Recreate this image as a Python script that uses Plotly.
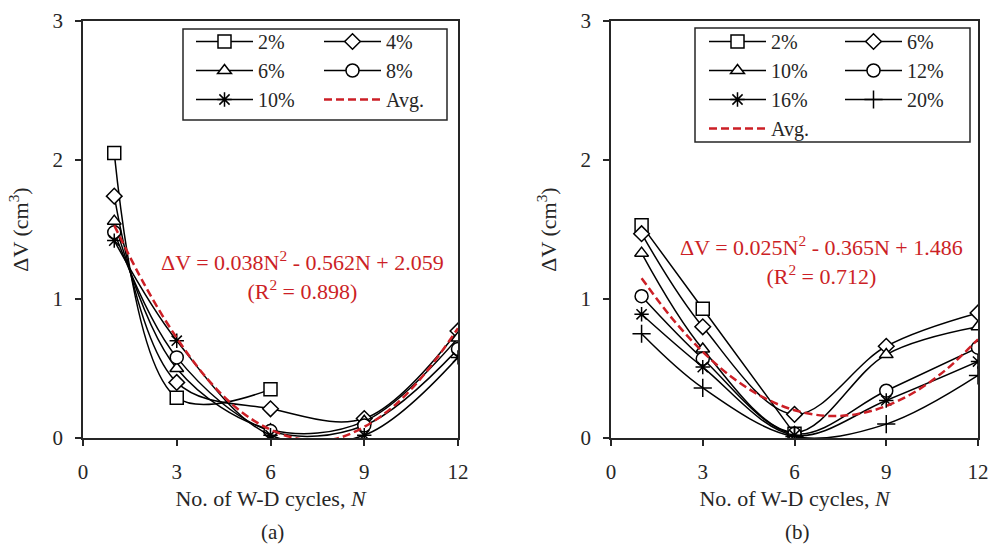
import plotly.graph_objects as go

W, H = 989, 548
FONT = "Liberation Serif, DejaVu Serif, serif"
RED = "#cc1f26"

# ---------------- data ----------------
N_full = [1, 3, 6, 9, 12]
N_short = [1, 3, 6]
N_avg = [1, 2, 3, 4, 5, 6, 7, 8, 9, 10, 11, 12]

# panel (a)
a_labels = ["2%", "4%", "6%", "8%", "10%"]
a_2 = [2.05, 0.29, 0.35]
a_4 = [1.74, 0.40, 0.21, 0.14, 0.77]
a_6 = [1.56, 0.50, 0.06, 0.12, 0.72]
a_8 = [1.48, 0.58, 0.05, 0.09, 0.64]
a_10 = [1.42, 0.70, 0.02, 0.02, 0.58]
a_avg = [1.53, 1.09, 0.72, 0.42, 0.20, 0.06, -0.01, -0.01, 0.08, 0.24, 0.48, 0.79]

# panel (b)
b_labels = ["2%", "6%", "10%", "12%", "16%", "20%"]
b_2 = [1.53, 0.93, 0.03]
b_6 = [1.47, 0.80, 0.17, 0.66, 0.90]
b_10 = [1.33, 0.64, 0.04, 0.60, 0.80]
b_12 = [1.02, 0.57, 0.03, 0.34, 0.65]
b_16 = [0.89, 0.51, 0.02, 0.27, 0.55]
b_20 = [0.75, 0.36, 0.01, 0.10, 0.45]
b_avg = [1.15, 0.86, 0.62, 0.43, 0.29, 0.20, 0.16, 0.17, 0.23, 0.34, 0.50, 0.71]

x_ticks = [0, 3, 6, 9, 12]
y_ticks = [0, 1, 2, 3]

# ---------------- helpers ----------------
def px(xp):
    return xp / W

def py(yp):
    return 1 - yp / H

fig = go.Figure()

def series(x, y, name, symbol, xa, ya, legend, size=12):
    fig.add_trace(go.Scatter(
        x=x, y=y, name=name, mode="lines+markers",
        xaxis=xa, yaxis=ya, legend=legend,
        line=dict(color="black", width=1.5, shape="spline", smoothing=1),
        marker=dict(symbol=symbol, size=size, color="white",
                    line=dict(color="black", width=1.5)),
    ))

def star(x, y, name, symbol, xa, ya, legend, size=12):
    fig.add_trace(go.Scatter(
        x=x, y=y, name=name, mode="lines+markers",
        xaxis=xa, yaxis=ya, legend=legend,
        line=dict(color="black", width=1.5, shape="spline", smoothing=1),
        marker=dict(symbol=symbol, size=size, color="black",
                    line=dict(color="black", width=1.5)),
    ))

def avg(x, y, xa, ya, legend):
    fig.add_trace(go.Scatter(
        x=x, y=y, name="Avg.", mode="lines",
        xaxis=xa, yaxis=ya, legend=legend,
        line=dict(color=RED, width=2.5, dash="8px,4px", shape="spline"),
    ))

# panel (a): legend = col1, legend2 = col2
series(N_short, a_2, a_labels[0], "square", "x", "y", "legend", 13)
series(N_full, a_4, a_labels[1], "diamond", "x", "y", "legend2", 12)
series(N_full, a_6, a_labels[2], "triangle-up", "x", "y", "legend", 12)
series(N_full, a_8, a_labels[3], "circle", "x", "y", "legend2", 13)
star(N_full, a_10, a_labels[4], "asterisk-open", "x", "y", "legend", 12)
avg(N_avg, a_avg, "x", "y", "legend2")

# panel (b): legend3 = col1, legend4 = col2
series(N_short, b_2, b_labels[0], "square", "x2", "y2", "legend3", 13)
series(N_full, b_6, b_labels[1], "diamond", "x2", "y2", "legend4", 12)
series(N_full, b_10, b_labels[2], "triangle-up", "x2", "y2", "legend3", 12)
series(N_full, b_12, b_labels[3], "circle", "x2", "y2", "legend4", 13)
star(N_full, b_16, b_labels[4], "asterisk-open", "x2", "y2", "legend3", 12)
star(N_full, b_20, b_labels[5], "cross-thin-open", "x2", "y2", "legend4", 13)
avg(N_avg, b_avg, "x2", "y2", "legend3")

axis_common = dict(
    showline=True, linecolor="#262626", linewidth=1.5, mirror=True,
    ticks="outside", ticklen=6, tickwidth=1.5, tickcolor="#262626",
    showgrid=False, zeroline=False, automargin=False,
    tickfont=dict(family=FONT, size=21, color="#262626"),
    ticklabelstandoff=8,
)

ydom = [py(438), py(21)]
xt = dict(text="No. of W-D cycles, <i>N</i>", standoff=8, font=dict(family=FONT, size=22))
yt = dict(text="ΔV (cm<sup>3</sup>)", standoff=18, font=dict(family=FONT, size=22))
fig.update_layout(
    width=W, height=H,
    margin=dict(l=0, r=0, t=0, b=0, autoexpand=False),
    paper_bgcolor="white", plot_bgcolor="white",
    font=dict(family=FONT, size=21, color="#262626"),
    xaxis=dict(domain=[px(83), px(458)], range=[0, 12], tickvals=x_ticks,
               anchor="y", title=xt, **axis_common),
    yaxis=dict(domain=ydom, range=[0, 3], tickvals=y_ticks, anchor="x",
               title=yt, **axis_common),
    xaxis2=dict(domain=[px(611), px(978)], range=[0, 12], tickvals=x_ticks,
                anchor="y2", title=xt, **axis_common),
    yaxis2=dict(domain=ydom, range=[0, 3], tickvals=y_ticks, anchor="x2",
                title=yt, **axis_common),
)

leg_common = dict(
    orientation="v", bgcolor="rgba(0,0,0,0)", borderwidth=0,
    font=dict(family=FONT, size=20, color="#262626"),
    itemwidth=57, tracegroupgap=0, xanchor="left", yanchor="top",
)
fig.update_layout(
    legend=dict(x=px(191), y=py(22), **leg_common),
    legend2=dict(x=px(319), y=py(22), **leg_common),
    legend3=dict(x=px(704), y=py(22), **leg_common),
    legend4=dict(x=px(840), y=py(22), **leg_common),
)

# legend frames
for (x0, y0, x1, y1) in [(183, 29, 447, 120), (695, 28, 970, 142)]:
    fig.add_shape(type="rect", xref="paper", yref="paper",
                  x0=px(x0), x1=px(x1), y0=py(y1), y1=py(y0),
                  line=dict(color="#262626", width=1.5), fillcolor="rgba(0,0,0,0)")

# equations
ann = dict(xref="paper", yref="paper", showarrow=False,
           xanchor="center", yanchor="middle", align="center")
fig.add_annotation(x=px(302), y=py(275),
                   text="ΔV = 0.038N<sup>2</sup> - 0.562N + 2.059<br>(R<sup>2</sup> = 0.898)",
                   font=dict(family=FONT, size=22, color=RED), **ann)
fig.add_annotation(x=px(821), y=py(260),
                   text="ΔV = 0.025N<sup>2</sup> - 0.365N + 1.486<br>(R<sup>2</sup> = 0.712)",
                   font=dict(family=FONT, size=22, color=RED), **ann)

# panel labels
fig.add_annotation(x=px(272), y=py(532), text="(a)",
                   font=dict(family=FONT, size=21, color="#262626"), **ann)
fig.add_annotation(x=px(797), y=py(532), text="(b)",
                   font=dict(family=FONT, size=21, color="#262626"), **ann)

fig.write_html("out.html")
